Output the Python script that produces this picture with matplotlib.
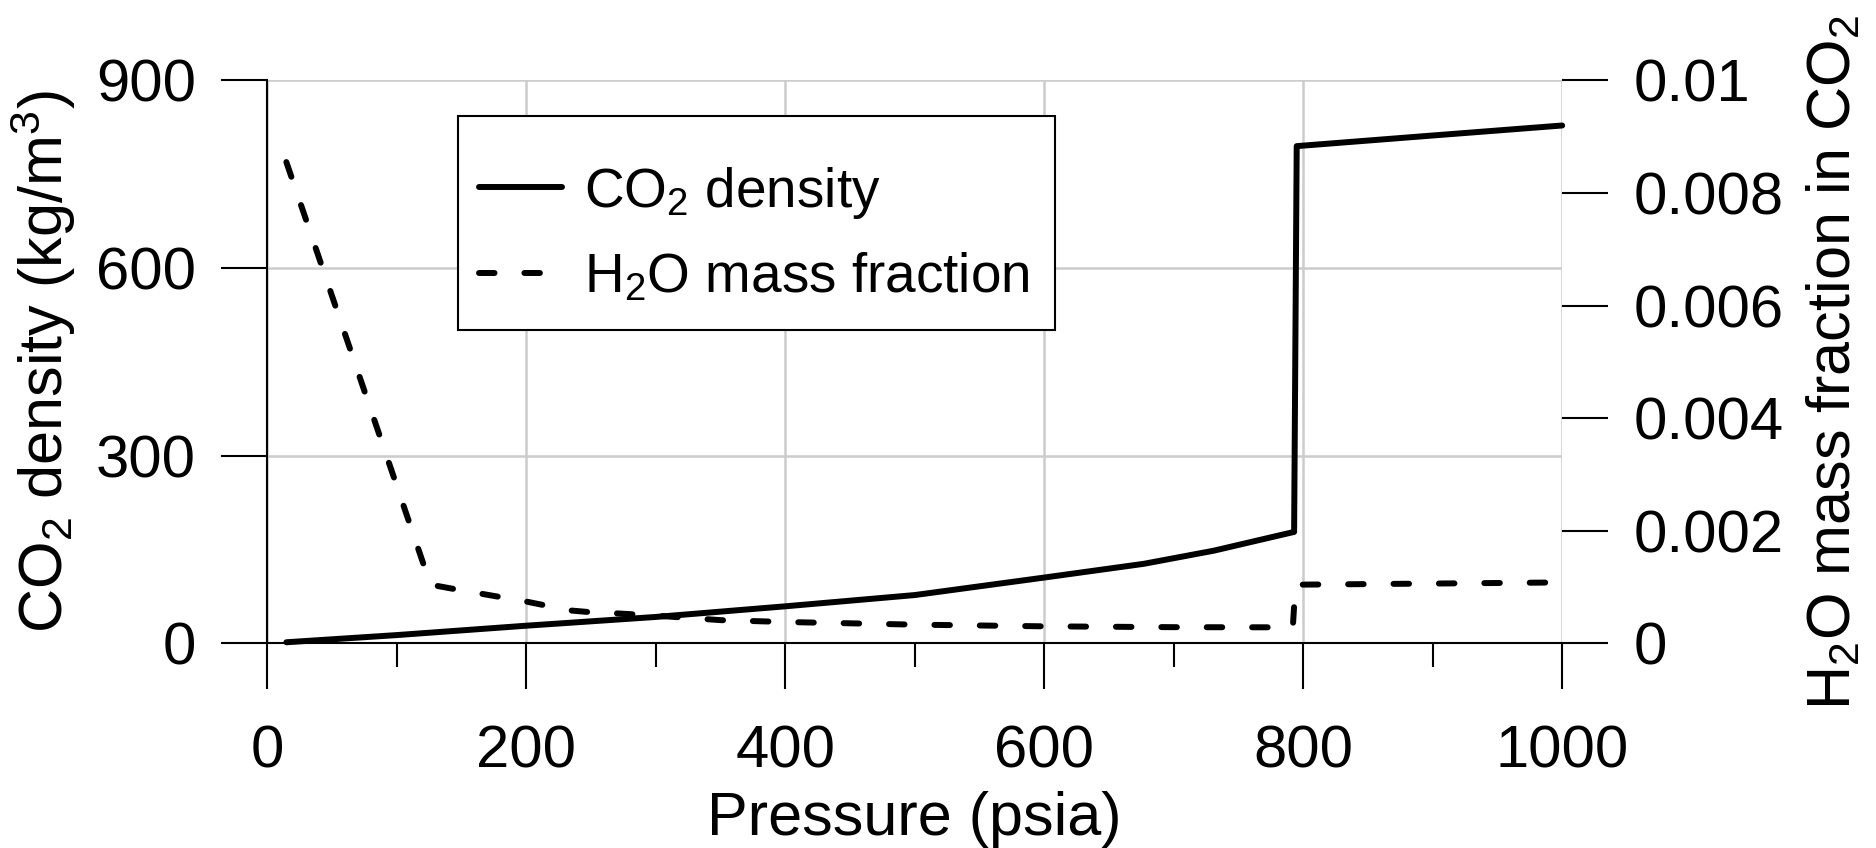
import matplotlib
matplotlib.use("Agg")
import matplotlib.pyplot as plt
from matplotlib.patches import Rectangle
from matplotlib.ticker import MultipleLocator

plt.rcParams['font.family'] = ['Liberation Sans', 'DejaVu Sans']
plt.rcParams['mathtext.fontset'] = 'custom'
plt.rcParams['mathtext.rm'] = 'Liberation Sans'
plt.rcParams['mathtext.it'] = 'Liberation Sans:italic'
plt.rcParams['mathtext.bf'] = 'Liberation Sans:bold'

# CO2 density (left axis)
pressure_rho = [14.7, 100, 200, 300, 400, 500, 600, 677, 731, 793, 795, 900, 1000]
co2_density = [1.5, 13, 28, 42, 59, 77, 105, 127, 148, 178, 795, 812, 828]

# H2O mass fraction in CO2 (right axis)
pressure_h2o = [14.7, 126, 145, 165, 200, 215, 235, 250, 270, 300, 350, 400,
                500, 600, 700, 792, 794, 900, 1000]
h2o_fraction = [0.00855, 0.00104, 0.00096, 0.00088, 0.00074, 0.00067, 0.00058,
                0.00055, 0.00053, 0.00049, 0.00041, 0.000377, 0.00033, 0.00030,
                0.000285, 0.000282, 0.00104, 0.00106, 0.00108]

x_ticks = [0, 200, 400, 600, 800, 1000]
rho_ticks = [0, 300, 600, 900]
frac_ticks = [0, 0.002, 0.004, 0.006, 0.008, 0.01]
frac_labels = ['0', '0.002', '0.004', '0.006', '0.008', '0.01']

fig = plt.figure(figsize=(18.76, 8.48), dpi=100)
ax = fig.add_axes([0.1425, 0.2415, 0.6902, 0.6636])
ax2 = ax.twinx()

l1, = ax.plot(pressure_rho, co2_density, color='black', lw=4.3,
              solid_joinstyle='round', solid_capstyle='round',
              label=r'CO$_2$ density', clip_on=False)
l2, = ax2.plot(pressure_h2o, h2o_fraction, color='black', lw=4.3,
               linestyle=(0, (2.6, 5.0)), dash_capstyle='round',
               label=r'H$_2$O mass fraction', clip_on=False)

ax.set_xlim(0, 1000)
ax.set_ylim(0, 900)
ax2.set_ylim(0, 0.01)

ax.set_xticks(x_ticks)
ax.xaxis.set_minor_locator(MultipleLocator(100))
ax.set_yticks(rho_ticks)
ax2.set_yticks(frac_ticks)
ax2.set_yticklabels(frac_labels)

ax.grid(True, which='major', color='#cccccc', lw=1.8)
ax.set_axisbelow(True)

for s in ['top', 'right']:
    ax.spines[s].set_visible(False)
for s in ax2.spines.values():
    s.set_visible(False)
ax.spines['left'].set_linewidth(1.5)
ax.spines['bottom'].set_linewidth(1.5)

ax.tick_params(axis='both', which='major', direction='out', length=33,
               width=1.5, labelsize=43)
ax.tick_params(axis='y', pad=18.4)
ax.tick_params(axis='x', pad=25.5)
ax.tick_params(axis='x', which='minor', direction='out', length=17.3, width=1.5)
ax2.tick_params(axis='y', direction='out', length=33, width=1.5,
                labelsize=43, pad=18.7)

ax.set_xlabel('Pressure (psia)', fontsize=44, labelpad=8)
ax.set_ylabel(r'CO$_2$ density (kg/m$^3$)', fontsize=44, labelpad=13)
ax2.set_ylabel(r'H$_2$O mass fraction in CO$_2$', fontsize=44, labelpad=16)

# legend box
box = Rectangle((0.1473, 0.5566), 0.4611, 0.3803, transform=ax2.transAxes,
                facecolor='white', edgecolor='black', lw=1.5, zorder=5)
ax2.add_patch(box)
leg = ax2.legend([l1, l2], [l1.get_label(), l2.get_label()],
                 loc='center left', bbox_to_anchor=(0.1634, 0.726),
                 frameon=False, fontsize=39.5, handlelength=1.52,
                 handletextpad=0.39, labelspacing=0.57, borderpad=0,
                 borderaxespad=0)
leg.set_zorder(6)

fig.savefig('out.png', dpi=100)
